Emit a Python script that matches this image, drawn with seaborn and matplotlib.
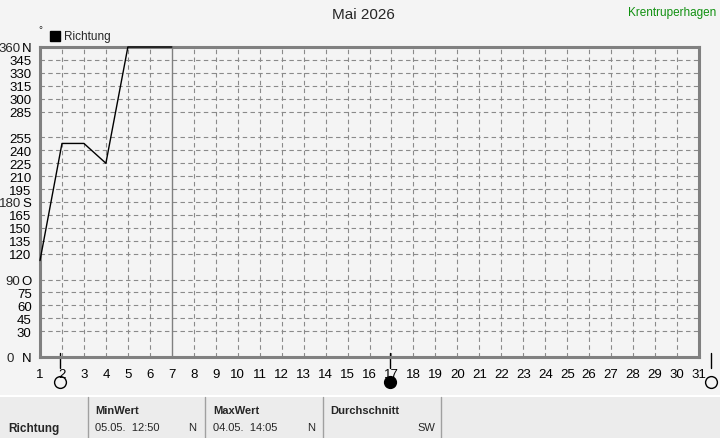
import matplotlib
matplotlib.use("Agg")
import matplotlib.pyplot as plt
import matplotlib.transforms as mtransforms
from matplotlib.patches import Rectangle
from matplotlib.lines import Line2D
import seaborn as sns
import pandas as pd

# ---- data ----
days = [1, 2, 3, 4, 5, 6, 7]
richtung = [112, 248, 248, 225, 360, 360, 360]
x_ticks = list(range(1, 32))
y_ticks = [0, 30, 45, 60, 75, 90, 120, 135, 150, 165, 180, 195, 210, 225,
           240, 255, 285, 300, 315, 330, 345, 360]
cardinal = {0: "N", 90: "O", 180: "S", 360: "N"}
moon_days = [1.91, 16.93, 31.55]
moon_filled = [False, True, False]
today = 7
title = "Mai 2026"
station = "Krentruperhagen"
table_cols = [("MinWert", "05.05.  12:50", "N"),
              ("MaxWert", "04.05.  14:05", "N"),
              ("Durchschnitt", "", "SW")]

BG = "#f4f4f4"
sns.set_style("white")
plt.rcParams["font.family"] = ["Liberation Sans", "DejaVu Sans"]

W, H = 720, 439
fig = plt.figure(figsize=(7.2, 4.39), dpi=100, facecolor=BG)
left, right, top, bottom = 40, 699, 48, 358
ax = fig.add_axes([left / W, 1 - bottom / H, (right - left) / W, (bottom - top) / H])
ax.set_facecolor(BG)

df = pd.DataFrame({"Tag": days, "Richtung": richtung})
sns.lineplot(data=df, x="Tag", y="Richtung", ax=ax, color="black", lw=1.0,
             legend=False, zorder=5, clip_on=False)

ax.set_xlim(1, 31)
ax.set_ylim(0, 360)
ax.set_xlabel("")
ax.set_ylabel("")

# grid
for d in x_ticks[1:-1]:
    if d == today:
        ax.axvline(d, color="#808080", lw=1.0, zorder=2)
    else:
        ax.axvline(d, color="#8a8a8a", lw=0.8, ls=(0, (4, 3)), zorder=1)
for v in y_ticks[1:-1]:
    ax.axhline(v, color="#8a8a8a", lw=0.8, ls=(0, (4, 3)), zorder=1)

for s in ax.spines.values():
    s.set_visible(True)
    s.set_color("#808080")
    s.set_linewidth(2.2)

FS = 9.5
ax.set_xticks(x_ticks)
ax.set_xticklabels([str(d) for d in x_ticks], fontsize=FS)
ax.set_yticks(y_ticks)
ylabels = [cardinal.get(v, str(v)) for v in y_ticks]
ax.set_yticklabels(ylabels, fontsize=FS)
ax.tick_params(axis="both", length=4, width=0.8, color="#808080", pad=2,
               labelcolor="black")
ax.tick_params(axis="x", pad=4)

# numbers for cardinal labels
ytrans = mtransforms.blended_transform_factory(fig.transFigure, ax.transData)
num_right = {0: 14, 90: 20, 180: 21, 360: 21}
for v, c in cardinal.items():
    fig.text(num_right[v] / W, v, str(v), ha="right", va="center_baseline",
             fontsize=FS, transform=ytrans)

# moon phase markers
trans = mtransforms.blended_transform_factory(ax.transData, ax.transAxes)
for md, filled in zip(moon_days, moon_filled):
    ax.add_line(Line2D([md, md], [0.013, -0.035], color="black", lw=1.0,
                       transform=trans, clip_on=False))
    ax.plot([md], [-0.081], marker="o", ms=8.5, mec="black", mew=1.0,
            mfc="black" if filled else "none", transform=trans, clip_on=False)

# titles
fig.text(363 / W, 1 - 15 / H, title, ha="center", va="center", fontsize=11)
fig.text(716 / W, 1 - 13 / H, station, ha="right", va="center", fontsize=8.5,
         color="#109010")
fig.text(40 / W, 1 - 30 / H, "°", ha="center", va="center", fontsize=7)
fig.patches.append(Rectangle((50 / W, 1 - 42 / H), 10 / W, 10 / H,
                             transform=fig.transFigure, color="black"))
fig.text(64 / W, 1 - 37 / H, "Richtung", ha="left", va="center", fontsize=8.5)

# bottom table
ptop = 397
fig.patches.append(Rectangle((0, 0), 1, (H - ptop) / H, transform=fig.transFigure,
                             facecolor="#ececec", edgecolor="none"))
fig.add_artist(Line2D([0, 1], [(H - ptop) / H] * 2, color="white", lw=1.5,
                      transform=fig.transFigure))
for xs in [88, 205, 323, 441]:
    fig.add_artist(Line2D([xs / W] * 2, [0, (H - ptop - 1) / H], color="#a0a0a0",
                          lw=1.0, transform=fig.transFigure))
fig.text(8 / W, 1 - 429 / H, "Richtung", ha="left", va="center", fontsize=8.5,
         weight="bold")
col_x = [95, 213, 330]
col_r = [196, 315, 435]
for (hdr, val, unit), cx, cr in zip(table_cols, col_x, col_r):
    fig.text(cx / W, 1 - 411 / H, hdr, ha="left", va="center", fontsize=8,
             weight="bold")
    if val:
        fig.text(cx / W, 1 - 428 / H, val, ha="left", va="center", fontsize=8)
    fig.text(cr / W, 1 - 428 / H, unit, ha="right", va="center", fontsize=8)

fig.savefig("out.png", dpi=100, facecolor=BG)
